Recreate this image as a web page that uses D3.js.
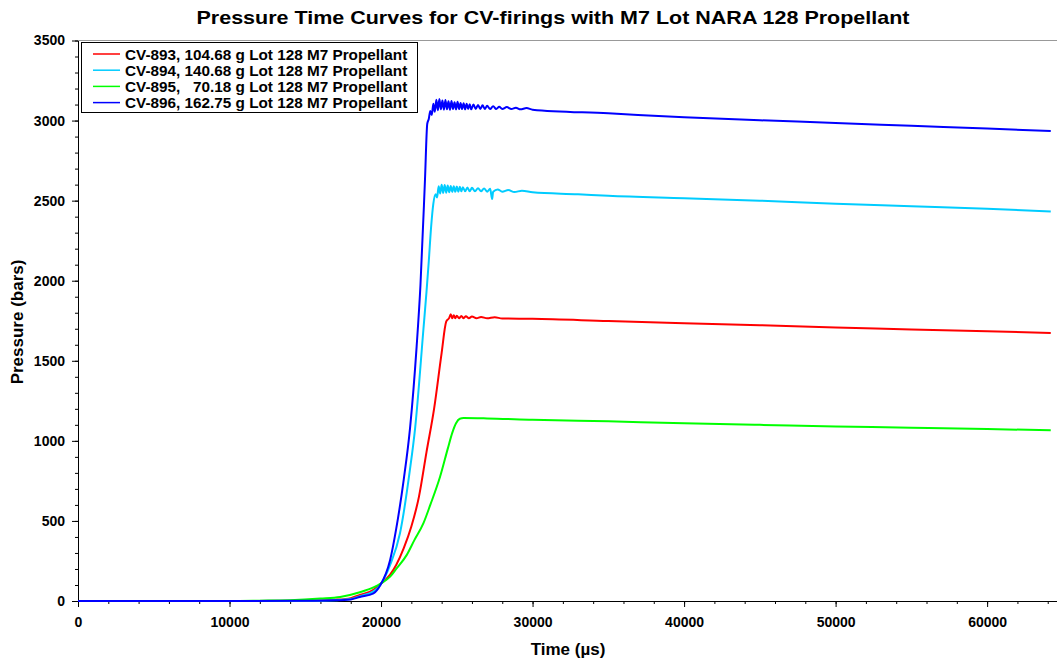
<!DOCTYPE html>
<html>
<head>
<meta charset="utf-8">
<script src="https://cdn.jsdelivr.net/npm/d3@7"></script>
<style>
  body { margin: 0; background: #fff; }
  text { font-family: Arial, "Liberation Sans", sans-serif; font-weight: bold; }
</style>
</head>
<body>
<svg width="1057" height="663"></svg>
<script>
// series names and colours, in legend order
var names = ["CV-893, 104.68 g Lot 128 M7 Propellant",
             "CV-894, 140.68 g Lot 128 M7 Propellant",
             "CV-895,   70.18 g Lot 128 M7 Propellant",
             "CV-896, 162.75 g Lot 128 M7 Propellant"];
var colors = ["#ff0000", "#00ccff", "#00ff00", "#0000ff"];

// [time (us), pressure (bars)]
var cv893 = [[0,0],[10000,0],[15000,2],[17000,8],[18000,18],[18600,38],[19500,70],[19950,105],[20600,165],
  [21000,225],[21500,330],[22000,465],[22500,650],[23000,930],[23500,1200],[24000,1550],[24300,1745],
  [24500,1768],[24600,1790],[24700,1765],[24800,1785],[24900,1766],[25000,1782],[25150,1766],[25300,1780],
  [25450,1766],[25600,1778],[25800,1766],[26000,1776],[26300,1766],[26600,1774],[27000,1765],[27500,1772],
  [28000,1764],[30000,1762],[35000,1748],[40000,1735],[45000,1722],[50000,1708],[55000,1696],[60000,1684],[64200,1674]];

var cv894 = [[0,0],[10000,0],[15000,1],[17000,5],[18000,12],[18600,30],[19500,60],[19950,100],[20600,225],
  [21250,423],[21900,815],[22250,1080],[22800,1700],[23000,1930],[23150,2120],[23300,2330],[23450,2480],
  [23600,2540],[23700,2520],[23800,2590],[23900,2545],[24000,2600],[24100,2548],[24200,2598],[24300,2550],
  [24400,2595],[24500,2552],[24600,2592],[24700,2555],[24800,2590],[24900,2555],[25000,2588],[25100,2556],
  [25200,2586],[25300,2558],[25400,2584],[25550,2558],[25700,2582],[25850,2558],[26000,2580],[26200,2558],
  [26400,2578],[26600,2558],[26800,2576],[27000,2556],[27200,2574],[27330,2510],[27400,2556],[27700,2570],
  [28000,2556],[28400,2566],[28800,2554],[29300,2562],[30000,2552],[33000,2540],[35000,2530],[40000,2515],
  [45000,2500],[50000,2480],[55000,2465],[60000,2450],[64200,2432]];

var cv895 = [[0,0],[10000,0],[12000,2],[14000,5],[16000,15],[17300,25],[18600,55],[19500,85],[20000,110],
  [20600,152],[21000,200],[21700,288],[22200,380],[22800,486],[23250,600],[23900,777],[24400,950],[24700,1050],
  [24950,1110],[25200,1138],[25450,1142],[27000,1140],[30000,1132],[35000,1122],[40000,1110],[45000,1100],
  [50000,1090],[55000,1082],[60000,1074],[64200,1066]];

var cv896 = [[0,0],[10000,0],[15000,1],[17000,4],[18000,10],[18600,25],[19500,48],[19950,98],[20600,256],
  [21000,450],[21500,760],[21914,1080],[22350,1590],[22600,1970],[22900,2630],[23050,2980],[23150,3010],
  [23250,3060],[23350,3035],[23450,3105],[23550,3055],[23650,3130],[23750,3065],[23850,3135],[23950,3070],
  [24050,3125],[24150,3068],[24250,3128],[24350,3070],[24450,3120],[24550,3068],[24650,3122],[24750,3072],
  [24850,3115],[24950,3070],[25050,3118],[25150,3072],[25250,3110],[25350,3072],[25450,3108],[25550,3070],
  [25650,3105],[25750,3072],[25850,3102],[25950,3070],[26100,3100],[26250,3072],[26400,3098],[26550,3072],
  [26700,3095],[26850,3072],[27000,3092],[27200,3072],[27400,3090],[27600,3072],[27800,3086],[28000,3072],
  [28300,3084],[28600,3072],[28900,3080],[29200,3070],[29600,3078],[30000,3068],[35000,3045],[40000,3020],
  [45000,3002],[50000,2985],[55000,2967],[60000,2950],[64200,2935]];

var series = [cv893, cv894, cv895, cv896];

// tick values
var xMajor = [0, 10000, 20000, 30000, 40000, 50000, 60000];
var yMajor = [0, 500, 1000, 1500, 2000, 2500, 3000, 3500];

var svg = d3.select("svg");

var x = d3.scaleLinear().domain([0, 65536]).range([78, 1071]);
var y = d3.scaleLinear().domain([0, 3500]).range([601, 40.5]);

// top frame line
svg.append("line")
    .attr("x1", 78).attr("x2", 1057)
    .attr("y1", 40.5).attr("y2", 40.5)
    .attr("stroke", "#999").attr("stroke-width", 1);

// minor ticks
svg.append("g")
    .attr("transform", "translate(0,601)")
    .call(d3.axisBottom(x).tickValues(d3.range(0, 66000, 2000)).tickSize(3).tickFormat(""))
    .call(function(g) { g.select(".domain").remove(); });
svg.append("g")
    .attr("transform", "translate(78,0)")
    .call(d3.axisLeft(y).tickValues(d3.range(0, 3600, 100)).tickSize(3).tickFormat(""))
    .call(function(g) { g.select(".domain").remove(); });

// major axes
svg.append("g")
    .attr("transform", "translate(0,601)")
    .call(d3.axisBottom(x).tickValues(xMajor).tickFormat(d3.format("d"))
        .tickSize(6).tickSizeOuter(0).tickPadding(10));
svg.append("g")
    .attr("transform", "translate(78,0)")
    .call(d3.axisLeft(y).tickValues(yMajor).tickFormat(d3.format("d"))
        .tickSize(6).tickSizeOuter(0).tickPadding(7));

svg.selectAll(".tick text")
    .style("font-size", "14px")
    .style("font-weight", "bold")
    .style("font-family", "Arial, 'Liberation Sans', sans-serif")
    .attr("fill", "#000");
svg.selectAll(".domain").attr("stroke", "#000");
svg.selectAll(".tick line").attr("stroke", "#000");

// curves
var line = d3.line()
    .x(function(d) { return x(d[0]); })
    .y(function(d) { return y(d[1]); })
    .curve(d3.curveMonotoneX);

svg.append("g")
    .selectAll("path")
    .data(series)
    .enter()
    .append("path")
    .attr("d", line)
    .attr("fill", "none")
    .attr("stroke", function(d, i) { return colors[i]; })
    .attr("stroke-width", 2)
    .attr("stroke-linejoin", "round");

// title
svg.append("text")
    .attr("x", 553).attr("y", 24)
    .attr("text-anchor", "middle")
    .attr("textLength", 713)
    .attr("lengthAdjust", "spacingAndGlyphs")
    .style("font-size", "19px")
    .text("Pressure Time Curves for CV-firings with M7 Lot NARA 128 Propellant");

// axis titles
svg.append("text")
    .attr("x", 568).attr("y", 655)
    .attr("text-anchor", "middle")
    .style("font-size", "17px")
    .text("Time (\u00b5s)");
svg.append("text")
    .attr("transform", "translate(23,322) rotate(-90)")
    .attr("text-anchor", "middle")
    .style("font-size", "17px")
    .text("Pressure (bars)");

// legend
var legend = svg.append("g");
legend.append("rect")
    .attr("x", 81.5).attr("y", 42.5)
    .attr("width", 336).attr("height", 70)
    .attr("fill", "#fff").attr("stroke", "#000").attr("stroke-width", 1);

var rows = legend.selectAll("g.row")
    .data(names)
    .enter()
    .append("g")
    .attr("class", "row")
    .attr("transform", function(d, i) { return "translate(0," + (54 + i * 16.2) + ")"; });
rows.append("line")
    .attr("x1", 93).attr("x2", 120)
    .attr("stroke", function(d, i) { return colors[i]; })
    .attr("stroke-width", 1.5);
rows.append("text")
    .attr("x", 125).attr("y", 5.5)
    .attr("xml:space", "preserve")
    .style("white-space", "pre")
    .style("font-size", "15.3px")
    .text(function(d) { return d; });
</script>
</body>
</html>
